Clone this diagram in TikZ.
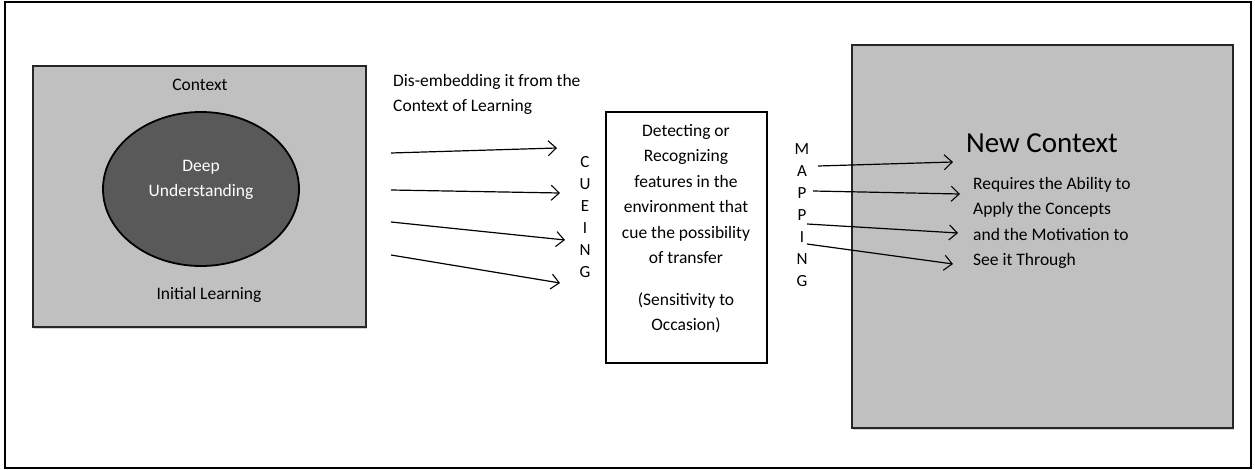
\documentclass[tikz,border=0pt]{standalone}
\usepackage{fontspec}
\setmainfont{Carlito}
\usepackage{xcolor}
\usetikzlibrary{shadows, shapes.geometric, arrows.meta}
\definecolor{boxgray}{HTML}{C0C0C0}
\definecolor{deepgray}{HTML}{595959}
\tikzset{
  ctxbox/.style={draw=black!85, line width=1.4pt, fill=boxgray, drop shadow={shadow xshift=1pt, shadow yshift=-1.5pt, opacity=0.35}},
  flow/.style={-{Straight Barb[length=8pt, width=15pt, line width=1.1pt]}, line width=1.2pt},
  txt/.style={font=\fontsize{17.5}{25.5}\selectfont, align=center, inner sep=0pt},
  vert/.style={font=\fontsize{17}{22}\selectfont, align=center, inner sep=0pt}
}

\begin{document}
\begin{tikzpicture}[x=1pt, y=-1pt]
            \useasboundingbox (0,0) rectangle (1255,470);
            \draw[line width=1.2pt] (5,2) rectangle (1251,468);
            % initial learning
            \draw[ctxbox] (33,66) rectangle (366,327);
            \node[txt] (context) at (200,85) {Context};
            \node[draw=black, line width=1.8pt, fill=deepgray, ellipse, minimum width=196pt, minimum height=154pt, inner sep=0pt] (deep) at (201,189) {};
            \node[txt, text=white] (deeptxt) at (201,180) {Deep\\Understanding};
            \node[txt] (initial) at (209,295) {Initial Learning};
            % cueing
            \node[txt, align=left, anchor=north west] (disembed) at (393,74) {Dis-embedding it from the\\Context of Learning};
            \coordinate (c1s) at (391,153); \coordinate (c1e) at (557,148);
            \coordinate (c2s) at (391,190); \coordinate (c2e) at (560,193);
            \coordinate (c3s) at (391,222); \coordinate (c3e) at (565,240);
            \coordinate (c4s) at (391,255); \coordinate (c4e) at (560,283);
            \foreach \i in {1,...,4}
                \draw[flow] (c\i s) -- (c\i e);
            \node[vert] (cueing) at (585,217) {C\\U\\E\\I\\N\\G};
            \draw[line width=1.2pt] (606,112) rectangle (767,363);
            \node[txt] (detect) at (686,194) {Detecting or\\Recognizing\\features in the\\environment that\\cue the possibility\\of transfer};
            \node[txt] (occasion) at (686,313) {(Sensitivity to\\Occasion)};
            % mapping
            \draw[ctxbox] (852,45) rectangle (1233,428);
            \node[vert] (mapping) at (802,215) {M\\A\\P\\P\\I\\N\\G};
            \node[txt, font=\fontsize{29}{32}\selectfont] (newctx) at (1042,143) {New Context};
            \node[txt, align=left, anchor=north west] (requires) at (973,177) {Requires the Ability to\\Apply the Concepts\\and the Motivation to\\See it Through};
            \coordinate (m1s) at (818,166); \coordinate (m1e) at (953,162);
            \coordinate (m2s) at (813,191); \coordinate (m2e) at (960,194);
            \coordinate (m3s) at (807,224); \coordinate (m3e) at (958,233);
            \coordinate (m4s) at (807,244); \coordinate (m4e) at (953,264);
            \foreach \i in {1,...,4}
                \draw[flow] (m\i s) -- (m\i e);
        \end{tikzpicture}
\end{document}
